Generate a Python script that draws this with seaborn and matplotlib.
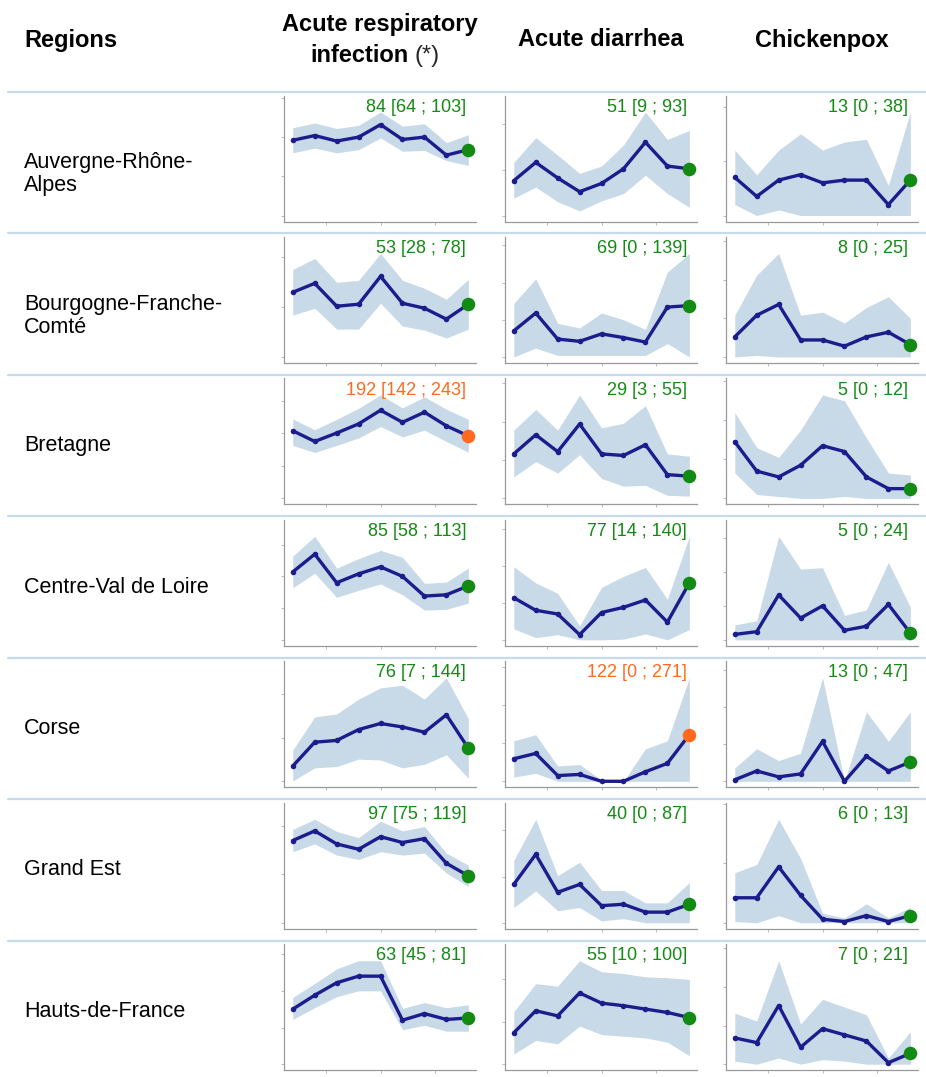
import matplotlib
matplotlib.use("Agg")

import numpy as np
import seaborn as sns
import matplotlib.pyplot as plt
from matplotlib.lines import Line2D

sns.set_style("white")
plt.rcParams['font.family'] = ['Liberation Sans', 'DejaVu Sans']

# ---- data -------------------------------------------------------------
regions = ["Auvergne-Rhône-\nAlpes", "Bourgogne-Franche-\nComté", "Bretagne",
           "Centre-Val de Loire", "Corse", "Grand Est", "Hauts-de-France"]
weeks = list(range(9))

# Acute respiratory infection
ari_mean = [[96, 102, 95, 100, 116, 97, 100, 77, 84],
            [65, 74, 51, 53, 81, 54, 49, 38, 53],
            [208, 175, 201, 229, 271, 234, 265, 223, 192],
            [107, 135, 90, 104, 115, 100, 69, 71, 85],
            [35, 90, 94, 119, 133, 125, 113, 153, 76],
            [170, 190, 163, 152, 178, 166, 174, 123, 97],
            [75, 94, 111, 120, 120, 60, 69, 61, 63]]
ari_lo = [[80, 86, 80, 84, 99, 82, 83, 70, 64],
          [42, 49, 28, 28, 54, 31, 27, 19, 28],
          [163, 141, 163, 186, 221, 189, 210, 175, 142],
          [82, 105, 67, 78, 88, 71, 47, 48, 58],
          [1, 31, 34, 51, 49, 31, 39, 61, 7],
          [147, 163, 140, 131, 147, 140, 144, 103, 75],
          [61, 77, 92, 100, 100, 47, 53, 45, 45]]
ari_hi = [[112, 118, 111, 115, 132, 114, 117, 93, 103],
          [88, 99, 75, 77, 104, 77, 69, 58, 78],
          [244, 211, 243, 277, 318, 278, 312, 274, 243],
          [132, 163, 113, 128, 141, 130, 89, 91, 113],
          [72, 148, 155, 189, 215, 221, 189, 238, 144],
          [193, 214, 189, 176, 210, 190, 199, 144, 119],
          [91, 110, 130, 141, 141, 76, 84, 77, 81]]
ari_alert = [0, 0, 1, 0, 0, 0, 0]

# Acute diarrhea
diar_mean = [[38, 58, 41, 26, 35, 51, 80, 54, 51],
             [35, 59, 24, 21, 31, 26, 20, 67, 69],
             [58, 83, 61, 97, 58, 56, 70, 31, 29],
             [57, 40, 35, 7, 37, 44, 54, 24, 77],
             [59, 73, 15, 18, 0, 0, 25, 47, 122],
             [83, 148, 66, 83, 37, 40, 23, 23, 40],
             [37, 63, 57, 84, 72, 69, 65, 61, 55]]
diar_lo = [[19, 31, 15, 5, 16, 24, 44, 24, 9],
           [0, 12, 2, 2, 2, 2, 2, 18, 0],
           [28, 48, 33, 57, 26, 16, 17, 4, 3],
           [15, 3, 7, 0, 0, 1, 8, 0, 14],
           [11, 21, 0, 0, 0, 0, 0, 0, 0],
           [33, 69, 26, 33, 4, 9, 0, 0, 0],
           [12, 28, 24, 45, 35, 33, 31, 26, 10]]
diar_hi = [[58, 85, 66, 46, 54, 77, 113, 83, 93],
           [72, 105, 45, 39, 59, 50, 37, 114, 139],
           [89, 116, 89, 135, 92, 98, 121, 58, 55],
           [99, 77, 63, 19, 71, 86, 98, 55, 140],
           [106, 122, 40, 44, 3, 0, 85, 106, 271],
           [135, 224, 102, 131, 70, 70, 43, 43, 87],
           [62, 95, 92, 122, 109, 107, 103, 102, 100]]
diar_alert = [0, 0, 0, 0, 1, 0, 0]

# Chickenpox
pox_mean = [[14, 7, 13, 15, 12, 13, 13, 4, 13],
            [13, 27, 34, 11, 11, 7, 13, 16, 8],
            [29, 14, 11, 17, 27, 24, 11, 5, 5],
            [4, 6, 33, 16, 25, 7, 10, 26, 5],
            [1, 7, 3, 5, 27, 0, 17, 7, 13],
            [21, 21, 47, 23, 3, 1, 6, 1, 6],
            [17, 14, 38, 11, 23, 19, 15, 1, 7]]
pox_lo = [[4, 0, 2, 0, 0, 0, 0, 0, 0],
          [0, 1, 0, 0, 0, 0, 0, 0, 0],
          [13, 2, 1, 0, 0, 1, 0, 0, 0],
          [0, 0, 0, 0, 0, 0, 0, 0, 0],
          [0, 0, 0, 0, 0, 0, 0, 0, 0],
          [1, 0, 6, 0, 0, 0, 0, 0, 0],
          [2, 0, 4, 0, 3, 2, 0, 0, 0]]
pox_hi = [[24, 15, 24, 30, 24, 27, 28, 11, 38],
          [27, 53, 67, 27, 29, 22, 32, 39, 25],
          [44, 26, 21, 35, 53, 50, 31, 13, 12],
          [11, 14, 76, 52, 53, 18, 22, 57, 24],
          [9, 22, 14, 19, 70, 0, 47, 27, 47],
          [42, 49, 87, 54, 8, 4, 16, 4, 13],
          [33, 28, 67, 26, 42, 37, 32, 4, 21]]
pox_alert = [0, 0, 0, 0, 0, 0, 0]

diseases = [(ari_mean, ari_lo, ari_hi, ari_alert),
            (diar_mean, diar_lo, diar_hi, diar_alert),
            (pox_mean, pox_lo, pox_hi, pox_alert)]

# ---- styling ----------------------------------------------------------
W, H = 926, 1077
BAND = '#c8d9e8'
LINE = '#1c1c8c'
GREEN = '#138a13'
ORANGE = '#ff6a1f'
SEP = '#c6daee'

col_left = [284, 505, 726]
col_w = 192
row_top0 = 92
row_h = 141.45
ax_h = 126

fig = plt.figure(figsize=(W / 100, H / 100), dpi=100)


def fx(px):
    return px / W


def fy(py):
    return 1 - py / H


# headers
hdr = dict(fontsize=17, fontweight='bold', va='center', color='black')
fig.text(fx(24), fy(40), "Regions", ha='left', **hdr)
fig.text(fx(col_left[0] + col_w / 2), fy(25), "Acute respiratory", ha='center', **hdr)
fig.text(fx(409), fy(56), "infection", ha='right', **hdr)
fig.text(fx(414), fy(56), "(*)", ha='left', fontsize=17, va='center')
fig.text(fx(col_left[1] + col_w / 2), fy(40), "Acute diarrhea", ha='center', **hdr)
fig.text(fx(col_left[2] + col_w / 2), fy(40), "Chickenpox", ha='center', **hdr)

for r, region in enumerate(regions):
    sep_y = row_top0 + r * row_h
    fig.add_artist(Line2D([fx(8), 1.0], [fy(sep_y), fy(sep_y)],
                          color=SEP, lw=1.6, transform=fig.transFigure))

    # region label: first line centred in the row
    mid = sep_y + row_h / 2
    for k, line in enumerate(region.split("\n")):
        fig.text(fx(24), fy(mid + k * 23), line, ha='left', va='center',
                 fontsize=15.5, color='black')

    for c, (mean, lo, hi, alert) in enumerate(diseases):
        ax = fig.add_axes([fx(col_left[c]), fy(sep_y + 3.5 + ax_h),
                           fx(col_w), ax_h / H])
        m, l, h = mean[r], lo[r], hi[r]
        ax.fill_between(weeks, l, h, color=BAND, lw=0)
        sns.lineplot(x=weeks, y=m, ax=ax, color=LINE, lw=2.4, marker='o',
                     markersize=4, markeredgewidth=0)
        dot_col = ORANGE if alert[r] else GREEN
        ax.scatter([weeks[-1]], [m[-1]], s=95, color=dot_col, zorder=5, lw=0)
        ax.text(0.948, 0.975, f"{m[-1]} [{l[-1]} ; {h[-1]}]", transform=ax.transAxes,
                ha='right', va='top', fontsize=13, color=dot_col)

        top = max(h) * 1.16
        ax.set_ylim(-0.05 * top, top)
        ax.set_xlim(-0.4, 8.35)
        ax.set_xticks([1.5, 4, 6.5])
        ax.set_xticklabels([])
        ax.set_yticklabels([])
        ax.set_xlabel("")
        ax.set_ylabel("")
        ax.tick_params(axis='both', length=2, width=0.7, color='#bbbbbb',
                       direction='out', left=True, bottom=True)
        sns.despine(ax=ax)
        for s in ('left', 'bottom'):
            ax.spines[s].set_color('#9a9a9a')
            ax.spines[s].set_linewidth(0.9)

fig.savefig("out.png", dpi=100)
